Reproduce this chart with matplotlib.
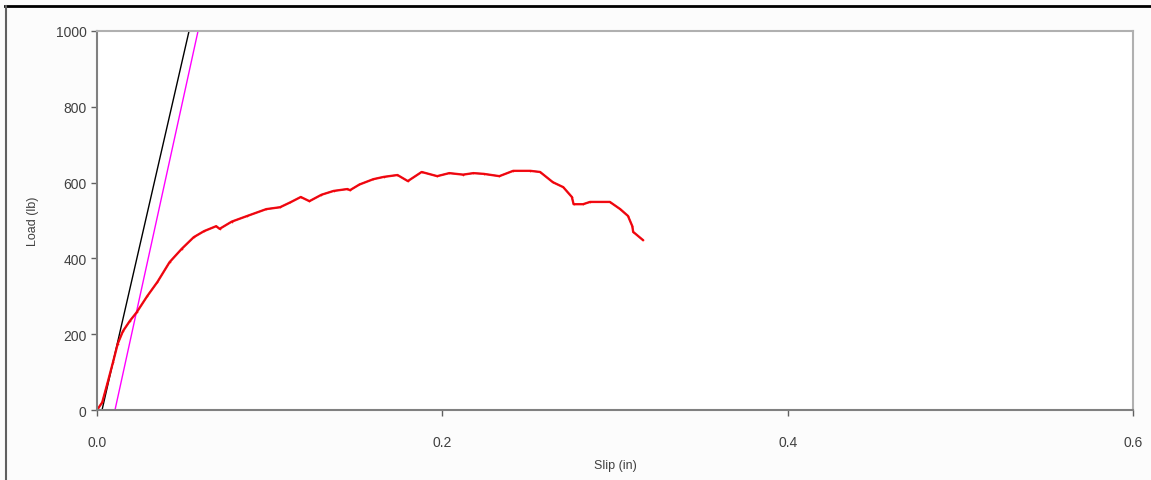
import numpy as np
import matplotlib
matplotlib.use("Agg")
import matplotlib.pyplot as plt
from matplotlib.lines import Line2D

plt.rcParams['font.family'] = ['Liberation Sans', 'DejaVu Sans']

slip = [0.0, 0.003, 0.006, 0.0093, 0.012, 0.015, 0.019, 0.023, 0.029, 0.035, 0.042,
        0.049, 0.056, 0.062, 0.069, 0.071, 0.078, 0.087, 0.098, 0.106, 0.112, 0.118,
        0.123, 0.130, 0.137, 0.145, 0.1465, 0.152, 0.160, 0.166, 0.174, 0.180, 0.188,
        0.197, 0.204, 0.212, 0.218, 0.224, 0.233, 0.241, 0.251, 0.2566, 0.264, 0.270,
        0.275, 0.276, 0.2815, 0.2855, 0.297, 0.303, 0.3075, 0.310, 0.3105, 0.316]
load = [0, 20, 70, 127, 175, 208, 235, 258, 300, 338, 390,
        425, 456, 472, 485, 478, 497, 512, 530, 535, 548, 562,
        551, 568, 578, 583, 580, 595, 609, 615, 620, 604, 628,
        617, 625, 621, 625, 623, 617, 631, 631, 628, 601, 588,
        562, 543, 543, 549, 549, 530, 512, 485, 470, 449]

# two stiffness lines
black_x = [0.0029, 0.0533]
black_y = [0, 1000]
pink_x = [0.0104, 0.0585]
pink_y = [0, 1000]

fig = plt.figure(figsize=(11.51, 4.81), dpi=100, facecolor='#fcfcfc')
ax = fig.add_axes([0.0843, 0.1455, 0.9001, 0.788])
ax.set_facecolor('white')

ax.plot(black_x, black_y, color='black', linewidth=1)
ax.plot(pink_x, pink_y, color='#ff00ff', linewidth=1)
ax.plot(slip, load, color='#3030a0', linewidth=1.0)
ax.plot(slip, load, color='red', linewidth=1.7, alpha=0.9,
        marker='.', markersize=2.5, markeredgewidth=0)

ax.set_xlim(0, 0.6)
ax.set_ylim(0, 1000)
ax.set_xticks([0.0, 0.2, 0.4, 0.6])
ax.set_xticklabels(['0.0', '0.2', '0.4', '0.6'])
ax.set_yticks([0, 200, 400, 600, 800, 1000])

for s in ['left', 'bottom']:
    ax.spines[s].set_color('#808080')
    ax.spines[s].set_linewidth(1.5)
for s in ['top', 'right']:
    ax.spines[s].set_color('#b0b0b0')
    ax.spines[s].set_linewidth(1.5)

ax.tick_params(direction='out', length=4, width=1, color='#606060',
               labelsize=10, labelcolor='#404040')
ax.tick_params(axis='x', pad=14)
ax.set_xlabel('Slip (in)', fontsize=9, color='#404040', labelpad=7)
ax.set_ylabel('Load (lb)', fontsize=9, color='#404040', labelpad=12)

# chart frame lines
fig.add_artist(Line2D([0.004, 1.0], [0.985, 0.985], transform=fig.transFigure,
                      color='black', linewidth=2))
fig.add_artist(Line2D([0.005, 0.005], [0.0, 0.985], transform=fig.transFigure,
                      color='#606060', linewidth=1.5))

plt.savefig('out.png', dpi=100, facecolor=fig.get_facecolor())
